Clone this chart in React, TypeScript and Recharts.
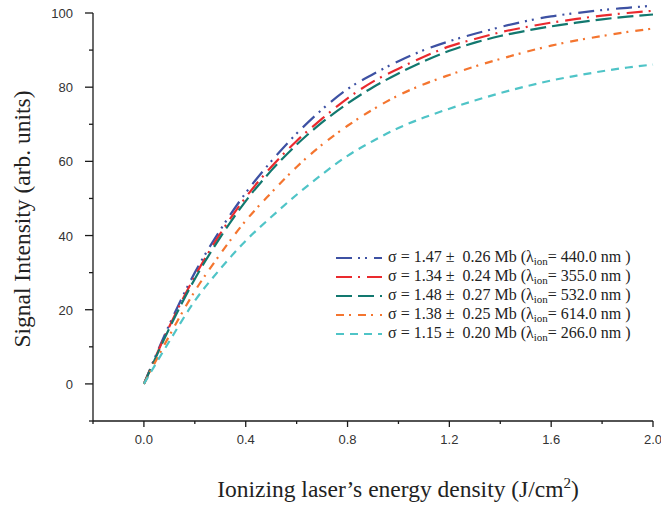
import { LineChart, Line, XAxis, YAxis, Label } from "recharts";

// energy density (J/cm2)
const energy = [0, 0.1, 0.2, 0.3, 0.4, 0.5, 0.6, 0.7, 0.8, 0.9, 1.0, 1.1, 1.2, 1.3, 1.4, 1.5, 1.6, 1.7, 1.8, 1.9, 2.0];

const s440 = [0, 16, 30, 41.5, 51.5, 60, 67.5, 74, 79.5, 83.5, 87, 90, 92.4, 94.4, 96.2, 97.8, 99.1, 100, 100.8, 101.4, 102];
const s355 = [0, 15.5, 29, 40.5, 50.3, 58.5, 65.5, 71.5, 77, 81.5, 85, 88.2, 91, 93, 94.8, 96.2, 97.4, 98.4, 99.3, 100, 100.6];
const s532 = [0, 15, 28.3, 39.5, 49.3, 57.5, 64.5, 70.5, 75.6, 80, 83.7, 87, 89.8, 92, 93.8, 95.2, 96.4, 97.4, 98.3, 99, 99.6];
const s614 = [0, 13, 25, 35, 44, 51.5, 58.5, 64.5, 69.6, 74, 77.8, 80.8, 83.3, 85.6, 87.6, 89.5, 91.2, 92.6, 93.8, 94.9, 95.8];
const s266 = [0, 11.5, 22.4, 31, 38.6, 45, 51, 56.5, 61.5, 65.5, 69, 71.8, 74.2, 76.4, 78.4, 80.2, 81.8, 83.1, 84.3, 85.3, 86.1];

const xTicks = [-0.2, 0, 0.2, 0.4, 0.6, 0.8, 1.0, 1.2, 1.4, 1.6, 1.8, 2.0];
const xMajor = [0, 0.4, 0.8, 1.2, 1.6, 2.0];
const yTicks = [-10, 0, 10, 20, 30, 40, 50, 60, 70, 80, 90, 100];
const yMajor = [0, 20, 40, 60, 80, 100];

const series = [
  { key: "s440", sigma: "1.47", err: "0.26", lambda: "440.0", color: "#3d51a3", dash: "16 6 2 5 2 7" },
  { key: "s355", sigma: "1.34", err: "0.24", lambda: "355.0", color: "#ea2a2e", dash: "16 6 2 7" },
  { key: "s532", sigma: "1.48", err: "0.27", lambda: "532.0", color: "#12786f", dash: "16 6" },
  { key: "s614", sigma: "1.38", err: "0.25", lambda: "614.0", color: "#f4752f", dash: "8 5 2 7" },
  { key: "s266", sigma: "1.15", err: "0.20", lambda: "266.0", color: "#4fc4c7", dash: "8 6" },
];

const data = energy.map((x, i) => ({
  x,
  s440: s440[i],
  s355: s355[i],
  s532: s532[i],
  s614: s614[i],
  s266: s266[i],
}));

const axisColor = "#1a1a1a";
const tickFont = "'Liberation Sans', Arial, sans-serif";
const serif = "'Liberation Serif', 'Times New Roman', serif";

const YTick = (props: any) => {
  const { x, y, payload } = props;
  const major = yMajor.includes(payload.value);
  return (
    <g>
      <line x1={x - (major ? 8 : 4)} x2={x} y1={y} y2={y} stroke={axisColor} strokeWidth={1.3} />
      {major && (
        <text x={x - 20} y={y + 5} textAnchor="end" fontSize={13} fontFamily={tickFont} fill="#333">
          {payload.value}
        </text>
      )}
    </g>
  );
};

const XTick = (props: any) => {
  const { x, y, payload } = props;
  const major = xMajor.some((v) => Math.abs(v - payload.value) < 1e-9);
  return (
    <g>
      <line x1={x} x2={x} y1={y} y2={y + (major ? 6 : 3)} stroke={axisColor} strokeWidth={1.3} />
      {major && (
        <text x={x} y={y + 23} textAnchor="middle" fontSize={13} fontFamily={tickFont} fill="#333">
          {payload.value.toFixed(1)}
        </text>
      )}
    </g>
  );
};

const LegendBox = () => (
  <div
    style={{
      position: "absolute",
      left: 336,
      top: 248,
      fontFamily: serif,
      fontSize: 16,
      color: "#222",
    }}
  >
    {series.map((s) => (
      <div key={s.key} style={{ display: "flex", alignItems: "center", height: 19 }}>
        <svg width={52} height={8} style={{ flex: "none" }}>
          <line x1={0} x2={46} y1={4} y2={4} stroke={s.color} strokeWidth={2.2} strokeDasharray={s.dash} />
        </svg>
        <span style={{ whiteSpace: "pre" }}>
          {"σ = " + s.sigma + " ±  " + s.err + " Mb (λ"}
          <sub style={{ fontSize: 11, verticalAlign: -3 }}>ion</sub>
          {"= " + s.lambda + " nm )"}
        </span>
      </div>
    ))}
  </div>
);

const YTitle = (props: any) => {
  const { viewBox } = props;
  const cy = viewBox.y + viewBox.height / 2 + 2;
  return (
    <text
      x={30}
      y={cy}
      transform={`rotate(-90, 30, ${cy})`}
      textAnchor="middle"
      fontSize={23.5}
      fontFamily={serif}
      fill="#222"
    >
      Signal Intensity (arb. units)
    </text>
  );
};

const XTitle = (props: any) => {
  const { viewBox } = props;
  const cx = viewBox.x + viewBox.width / 2 + 25;
  return (
    <text x={cx} y={497} textAnchor="middle" fontSize={23.5} fontFamily={serif} fill="#222">
      Ionizing laser’s energy density (J/cm
      <tspan fontSize={15} dy={-9}>2</tspan>
      <tspan dy={9}>)</tspan>
    </text>
  );
};

export default function App() {
  return (
    <div style={{ position: "absolute", left: 0, top: 0, width: 661, height: 506, background: "#fff" }}>
      <style>{".recharts-line, .recharts-line * { clip-path: none !important; }"}</style>
      <LineChart
        width={661}
        height={506}
        data={data}
        margin={{ top: 13, right: 8, bottom: 0, left: 0 }}
      >
        <XAxis
          dataKey="x"
          type="number"
          domain={[-0.2, 2.0]}
          ticks={xTicks}
          allowDataOverflow
          stroke={axisColor}
          strokeWidth={1.3}
          tickLine={false}
          tickSize={0}
          tickMargin={0}
          tick={<XTick />}
          height={85}
          interval={0}
        >
          <Label content={<XTitle />} />
        </XAxis>
        <YAxis
          type="number"
          domain={[-10, 100]}
          ticks={yTicks}
          allowDataOverflow
          stroke={axisColor}
          strokeWidth={1.3}
          tickLine={false}
          tickSize={0}
          tickMargin={0}
          tick={<YTick />}
          width={93}
          interval={0}
        >
          <Label content={<YTitle />} />
        </YAxis>
        {series.map((s) => (
          <Line
            key={s.key}
            dataKey={s.key}
            type="monotone"
            stroke={s.color}
            strokeWidth={2.2}
            strokeDasharray={s.dash}
            dot={false}
            activeDot={false}
            isAnimationActive={false}
          />
        ))}
      </LineChart>
      <LegendBox />
    </div>
  );
}
